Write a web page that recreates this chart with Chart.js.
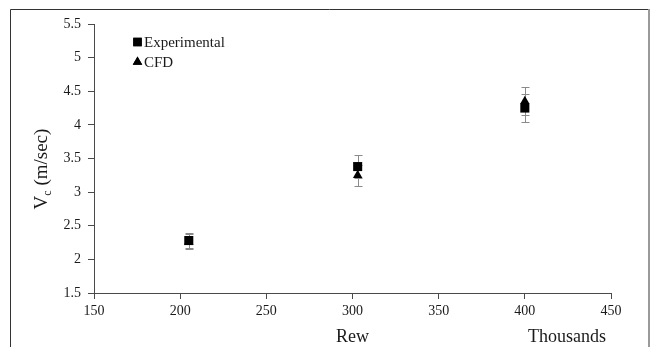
<!DOCTYPE html>
<html>
<head>
<meta charset="utf-8">
<script src="https://cdn.jsdelivr.net/npm/chart.js@4.4.1/dist/chart.umd.min.js"></script>
<style>
  html, body { margin: 0; padding: 0; background: #fff; }
  #wrap { width: 651px; height: 347px; }
</style>
</head>
<body>
<div id="wrap"><canvas id="c" width="651" height="347"></canvas></div>
<script>
// Rew (thousands) at each test point
const rewThousands = [205, 303, 400];
// Critical velocity Vc (m/sec)
const experimental = [2.28, 3.38, 4.25];
const experimentalErr = [0.11, 0.17, 0.21];
const cfd = [2.26, 3.25, 4.35];
const cfdErr = [0.11, 0.16, 0.21];

const seriesLabels = ['Experimental', 'CFD'];
const xTitle = 'Rew';
const xUnitNote = 'Thousands';

const SERIF = "'Liberation Serif', 'Times New Roman', serif";
const AXIS_COLOR = '#4a4a4a';
const TEXT_COLOR = '#1a1a1a';

function toPoints(xs, ys, errs) {
  return xs.map((x, i) => ({ x: x, y: ys[i], err: errs[i] }));
}

// Vertical error bars with small caps, drawn under the markers
const errorBars = {
  id: 'errorBars',
  beforeDatasetsDraw(chart) {
    const { ctx, scales: { x, y } } = chart;
    ctx.save();
    ctx.strokeStyle = '#8a8a8a';
    ctx.lineWidth = 1;
    chart.data.datasets.forEach(ds => {
      ds.data.forEach(p => {
        const px = Math.round(x.getPixelForValue(p.x)) + 0.5;
        const top = Math.round(y.getPixelForValue(p.y + p.err)) + 0.5;
        const bot = Math.round(y.getPixelForValue(p.y - p.err)) + 0.5;
        ctx.beginPath();
        ctx.moveTo(px, top); ctx.lineTo(px, bot);
        ctx.moveTo(px - 4, top); ctx.lineTo(px + 4, top);
        ctx.moveTo(px - 4, bot); ctx.lineTo(px + 4, bot);
        ctx.stroke();
      });
    });
    ctx.restore();
  }
};

// Frame, axis titles and in-plot legend
const decorations = {
  id: 'decorations',
  beforeDraw(chart) {
    const ctx = chart.ctx;
    ctx.save();
    ctx.fillStyle = '#fff';
    ctx.fillRect(0, 0, chart.width, chart.height);
    ctx.lineWidth = 1;
    ctx.strokeStyle = '#333';
    ctx.beginPath();
    ctx.moveTo(10.5, chart.height + 2);
    ctx.lineTo(10.5, 9.5);
    ctx.lineTo(648, 9.5);
    ctx.stroke();
    ctx.strokeStyle = '#9a9a9a';
    ctx.lineWidth = 2;
    ctx.beginPath();
    ctx.moveTo(649, 9);
    ctx.lineTo(649, chart.height + 2);
    ctx.stroke();
    ctx.restore();
  },
  afterDraw(chart) {
    const ctx = chart.ctx;
    ctx.save();
    ctx.fillStyle = TEXT_COLOR;
    ctx.textBaseline = 'alphabetic';

    // y-axis title: V with subscript c, then unit
    ctx.translate(47, 169);
    ctx.rotate(-Math.PI / 2);
    const big = '19px ' + SERIF;
    const small = '12px ' + SERIF;
    ctx.font = big; const wV = ctx.measureText('V').width;
    ctx.font = small; const wc = ctx.measureText('c').width;
    ctx.font = big; const wRest = ctx.measureText(' (m/sec)').width;
    let cx = -(wV + wc + wRest) / 2;
    ctx.textAlign = 'left';
    ctx.font = big; ctx.fillText('V', cx, 0); cx += wV;
    ctx.font = small; ctx.fillText('c', cx, 4); cx += wc;
    ctx.font = big; ctx.fillText(' (m/sec)', cx, 0);
    ctx.setTransform(1, 0, 0, 1, 0, 0);

    // x-axis title and unit note
    ctx.font = '18px ' + SERIF;
    ctx.textAlign = 'center';
    ctx.fillText(xTitle, 352.5, 342);
    ctx.textAlign = 'left';
    ctx.fillText(xUnitNote, 528, 342);

    // legend
    ctx.font = '15px ' + SERIF;
    chart.data.datasets.forEach((ds, i) => {
      const my = 42 + i * 20;
      ctx.fillStyle = '#000';
      Chart.helpers.drawPoint(ctx, {
        pointStyle: ds.pointStyle,
        radius: ds.legendRadius,
        rotation: 0,
        borderWidth: 0
      }, 137.5, my);
      ctx.fill();
      ctx.fillStyle = TEXT_COLOR;
      ctx.fillText(ds.label, 144, my + 5);
    });
    ctx.restore();
  }
};

const tickFont = { family: SERIF, size: 14 };
const plainNumber = v => String(Number(v.toFixed(2)));

new Chart(document.getElementById('c'), {
  type: 'scatter',
  data: {
    datasets: [
      {
        label: seriesLabels[0],
        data: toPoints(rewThousands, experimental, experimentalErr),
        pointStyle: 'rect',
        pointRadius: 6.4,
        legendRadius: 6,
        backgroundColor: '#000',
        borderColor: '#000',
        borderWidth: 0
      },
      {
        label: seriesLabels[1],
        data: toPoints(rewThousands, cfd, cfdErr),
        pointStyle: 'triangle',
        pointRadius: 5.5,
        legendRadius: 5.5,
        backgroundColor: '#000',
        borderColor: '#000',
        borderWidth: 0
      }
    ]
  },
  options: {
    responsive: false,
    animation: false,
    devicePixelRatio: 1,
    layout: { padding: { left: 0, top: 24, right: 40, bottom: 0 } },
    plugins: {
      legend: { display: false },
      tooltip: { enabled: false }
    },
    scales: {
      x: {
        type: 'linear',
        min: 150, max: 450,
        afterFit(scale) { scale.height = 54; },
        ticks: { stepSize: 50, padding: 4, color: TEXT_COLOR, font: tickFont, callback: plainNumber },
        grid: { display: true, drawOnChartArea: false, drawTicks: true, tickLength: 6, color: AXIS_COLOR },
        border: { display: true, color: AXIS_COLOR, width: 1 }
      },
      y: {
        type: 'linear',
        min: 1.5, max: 5.5,
        afterFit(scale) { scale.width = 94; },
        ticks: { stepSize: 0.5, padding: 7, color: TEXT_COLOR, font: tickFont, callback: plainNumber },
        grid: { display: true, drawOnChartArea: false, drawTicks: true, tickLength: 6, color: AXIS_COLOR },
        border: { display: true, color: AXIS_COLOR, width: 1 }
      }
    }
  },
  plugins: [decorations, errorBars]
});
</script>
</body>
</html>
